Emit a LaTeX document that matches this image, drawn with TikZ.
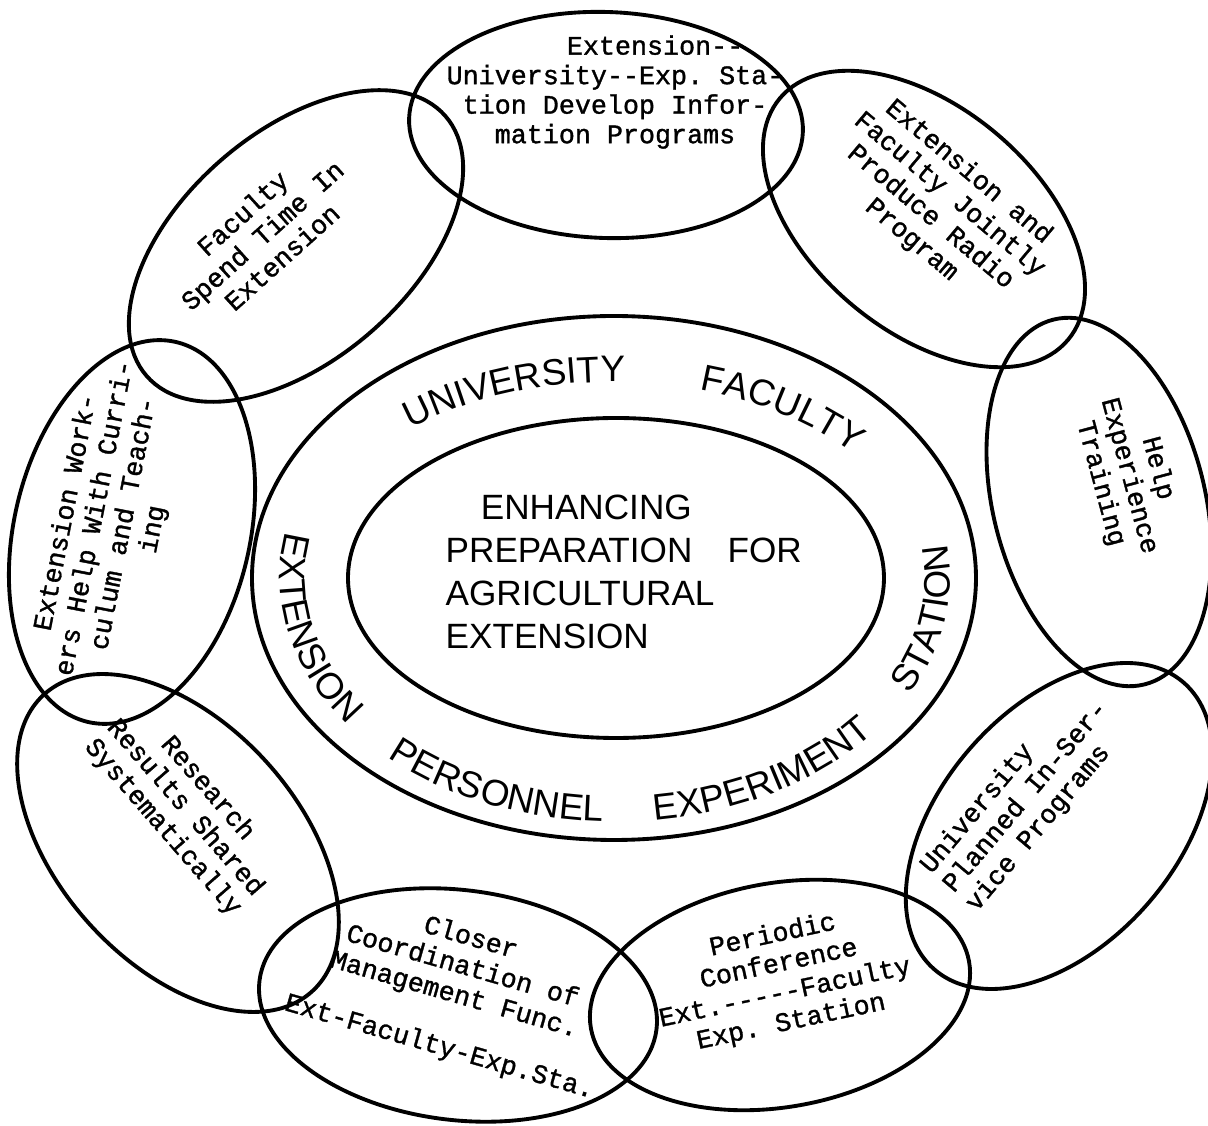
\documentclass[tikz,border=0pt]{standalone}
\usepackage{fontspec}
\setmainfont{Liberation Serif}
\setsansfont{Liberation Sans}
\setmonofont{Liberation Mono}[BoldFont=Liberation Mono, BoldFeatures={FakeBold=1.2}]
\usetikzlibrary{shapes.geometric,decorations.text}
\pgfdeclarelayer{nodelayer}
\pgfdeclarelayer{edgelayer}
\pgfsetlayers{edgelayer,nodelayer,main}
\newcommand{\ringfont}{\sffamily\fontsize{10.5}{12}\selectfont}
\tikzstyle{ring}=[fill=none, draw=black, shape=ellipse, line width=1.1pt, inner sep=0pt]
\tikzstyle{petal}=[fill=none, draw=black, shape=ellipse, line width=1.1pt, inner sep=0pt]
\tikzstyle{petal text}=[font=\ttfamily\bfseries\fontsize{7.6}{8.4}\selectfont, align=center, inner sep=0pt]
\tikzstyle{core text}=[font=\sffamily\fontsize{10}{12.3}\selectfont, align=left, inner sep=0pt]
\tikzstyle{ring text}=[decorate, decoration={text along path, text align={fit to path stretching spaces}}]

\begin{document}
\begin{tikzpicture}
	\useasboundingbox (0,0) rectangle (12.08,-11.26);
	\begin{pgfonlayer}{edgelayer}
		\node [style=ring, minimum width=7.24cm, minimum height=5.24cm] (outer) at (6.14,-5.78) {};
		\node [style=ring, minimum width=5.36cm, minimum height=3.20cm] (inner) at (6.16,-5.78) {};
		\node [style=petal, minimum width=3.94cm, minimum height=2.26cm, rotate=-2] (info) at (6.06,-1.25) {};
		\node [style=petal, minimum width=3.76cm, minimum height=2.24cm, rotate=-40] (radio) at (9.24,-2.19) {};
		\node [style=petal, minimum width=3.76cm, minimum height=2.12cm, rotate=-76] (help) at (10.99,-5.02) {};
		\node [style=petal, minimum width=3.80cm, minimum height=2.36cm, rotate=49] (inservice) at (10.59,-8.26) {};
		\node [style=petal, minimum width=3.84cm, minimum height=2.24cm, rotate=10] (periodic) at (7.80,-9.95) {};
		\node [style=petal, minimum width=4.00cm, minimum height=2.30cm, rotate=-7] (closer) at (4.58,-10.05) {};
		\node [style=petal, minimum width=4.00cm, minimum height=2.40cm, rotate=-48] (research) at (1.78,-8.43) {};
		\node [style=petal, minimum width=3.90cm, minimum height=2.36cm, rotate=77] (workers) at (1.32,-5.32) {};
		\node [style=petal, minimum width=3.96cm, minimum height=2.28cm, rotate=41] (faculty) at (2.96,-2.46) {};
	\end{pgfonlayer}
	\begin{pgfonlayer}{nodelayer}
		\node [style=core text, anchor=west] (core) at (4.45,-5.72) {\hspace*{1em}ENHANCING\\PREPARATION\quad FOR\\AGRICULTURAL\\EXTENSION};
		\node [style=petal text] (infotext) at (6.15,-0.92) {\hspace*{3em}Extension--\\University--Exp. Sta-\\tion Develop Infor-\\mation Programs};
		\node [style=petal text, rotate=-40] (radiotext) at (9.40,-2.06) {Extension and\\Faculty Jointly\\Produce Radio\\Program};
		\node [style=petal text, rotate=-75] (helptext) at (11.29,-4.76) {Help\\Experience\\Training};
		\node [style=petal text, rotate=50, align=left] (inservicetext) at (10.26,-7.97) {University\\Planned In-Ser-\\vice Programs};
		\node [style=petal text, rotate=12] (periodictext) at (7.82,-9.79) {Periodic\\Conference\\Ext.-----Faculty\\Exp. Station};
		\node [style=petal text, rotate=-16] (closertext) at (4.55,-9.93) {Closer\\Coordination of\\Management Func.\\[7pt]Ext-Faculty-Exp.Sta.};
		\node [style=petal text, rotate=-49] (researchtext) at (1.85,-8.08) {Research\\Results Shared\\Systematically};
		\node [style=petal text, rotate=79] (workerstext) at (1.10,-5.21) {Extension Work-\\ers Help With Curri-\\culum and Teach-\\ing};
		\node [style=petal text, rotate=42] (facultytext) at (2.62,-2.35) {Faculty\\Spend Time In\\Extension};
	\end{pgfonlayer}
	% lettering round the ring
	\path [style=ring text, decoration={text={|\ringfont|UNIVERSITY FACULTY}}] (6.12,-5.90) ++(129:3.20 and 2.08) arc [start angle=129, end angle=41, x radius=3.20, y radius=2.08];
	\path [style=ring text, decoration={text={|\ringfont|EXTENSION PERSONNEL EXPERIMENT STATION}}] (6.15,-5.78) ++(169:3.35 and 2.44) arc [start angle=169, end angle=368, x radius=3.35, y radius=2.44];
\end{tikzpicture}
\end{document}
